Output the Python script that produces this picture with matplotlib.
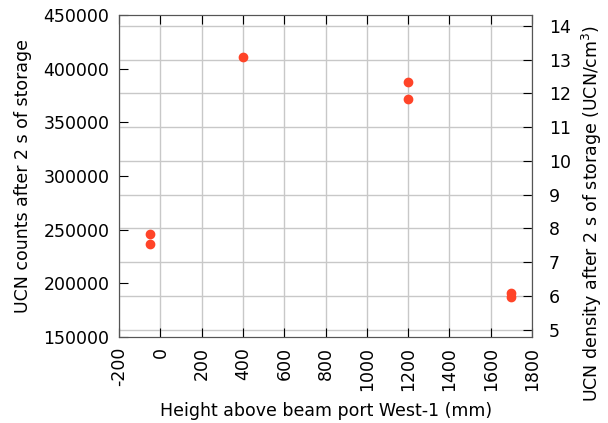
import matplotlib
matplotlib.use("Agg")
import matplotlib.pyplot as plt

# Dados: altura (mm) e contagens de UCN
altura = [-50, -50, 400, 1200, 1200, 1700, 1700]
contagens = [246000, 237000, 411000, 387000, 372000, 191000, 187000]

# Fator de conversão contagens -> densidade (UCN/cm^3)
fator = 3.185e-5

plt.rcParams['font.family'] = 'DejaVu Sans'
plt.rcParams['font.size'] = 12.5
plt.rcParams['axes.unicode_minus'] = False

fig, ax = plt.subplots(figsize=(6.08, 4.23), dpi=100)
fig.subplots_adjust(left=0.196, right=0.875, top=0.965, bottom=0.203)

ax.plot(altura, contagens, 'o', color='#ff4428', markersize=6, zorder=3)
ax.set_xlim(-200, 1800)
ax.set_ylim(150000, 450000)
ax.set_xticks(range(-200, 1801, 200))
ax.set_yticks(range(150000, 450001, 50000))
ax.tick_params(axis='x', labelrotation=90, direction='in', top=True, length=6.5, pad=7)
ax.tick_params(axis='y', direction='in', length=6.5, pad=7)
ax.set_xlabel('Height above beam port West-1 (mm)', labelpad=8)
ax.set_ylabel('UCN counts after 2 s of storage', labelpad=8)
ax.grid(axis='x', color='#c8c8c8', linewidth=1)

ax2 = ax.twinx()
ax2.set_ylim(150000 * fator, 450000 * fator)
ax2.set_yticks(range(5, 15))
ax2.tick_params(axis='y', direction='in', length=6.5, pad=12)
ax2.set_ylabel('UCN density after 2 s of storage (UCN/cm$^3$)')
ax2.yaxis.set_label_coords(1.115, 0.385)
ax2.grid(axis='y', color='#c8c8c8', linewidth=1)
ax2.set_axisbelow(True)
ax.set_zorder(ax2.get_zorder() + 1)
ax.patch.set_visible(False)

for a in (ax, ax2):
    for s in a.spines.values():
        s.set_color('#555555')

plt.savefig('out.png')
